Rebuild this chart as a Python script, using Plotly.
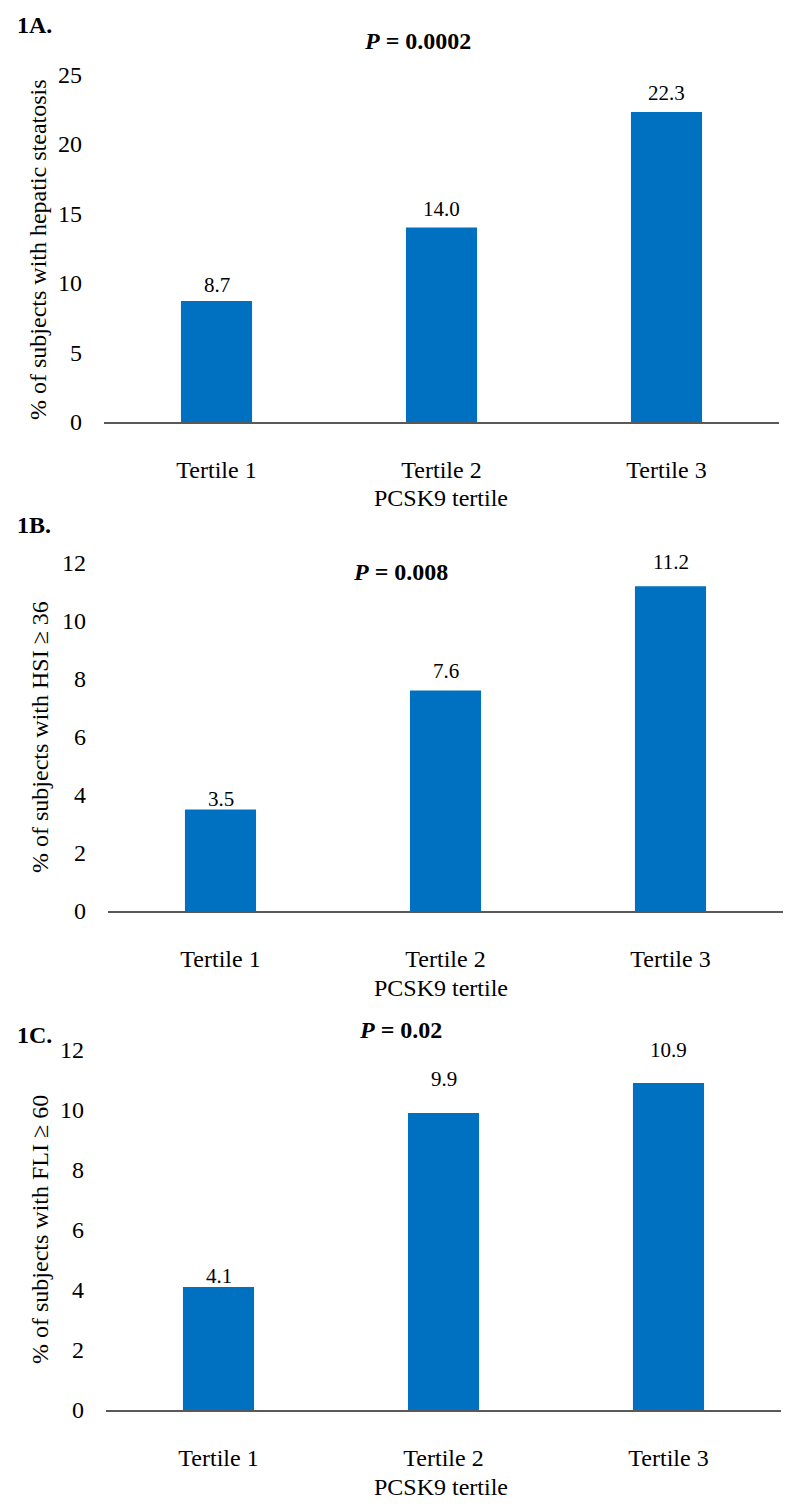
import plotly.graph_objects as go

categories = ["Tertile 1", "Tertile 2", "Tertile 3"]
vals_a = [8.7, 14.0, 22.3]
vals_b = [3.5, 7.6, 11.2]
vals_c = [4.1, 9.9, 10.9]
labels_a = ["8.7", "14.0", "22.3"]
labels_b = ["3.5", "7.6", "11.2"]
labels_c = ["4.1", "9.9", "10.9"]
ytitles = ["% of subjects with hepatic steatosis", "% of subjects with HSI ≥ 36", "% of subjects with FLI ≥ 60"]
ptitles = ["<i>P</i> = 0.0002", "<i>P</i> = 0.008", "<i>P</i> = 0.02"]
panel_labels = ["1A.", "1B.", "1C."]
xtitle = "PCSK9 tertile"

# label lift above bar top (pixels), style only
label_lift = [[2, 4, 5], [-3, 6, 10], [-3, 20, 19]]

W, H = 800, 1510
OFF = 8  # page body margin
FONT = "Liberation Serif, Times New Roman, serif"
BLUE = "#0070C0"

def px(x):
    return (x - OFF) / W

def py(y):
    return 1 - (y - OFF) / H

fig = go.Figure()
ann = []
# (y of top tick, y of zero, x left, x right, ymax, dtick)
panels = [(74.5, 422, 104, 779, 25, 5), (563, 911, 108, 783, 12, 2), (1050, 1410, 106, 781, 12, 2)]
series = [(vals_a, labels_a), (vals_b, labels_b), (vals_c, labels_c)]
for i, ((top, zero, xl, xr, ymax, dt), (vals, labs)) in enumerate(zip(panels, series)):
    sfx = "" if i == 0 else str(i + 1)
    fig.add_trace(go.Bar(x=categories, y=vals,
                         marker=dict(color=BLUE, line=dict(width=0)),
                         showlegend=False, hoverinfo="x+y",
                         xaxis="x" + sfx, yaxis="y" + sfx))
    for c, v, lab, lift in zip(categories, vals, labs, label_lift[i]):
        ann.append(dict(text=lab, x=c, y=v, xref="x" + sfx, yref="y" + sfx,
                        xanchor="center", yanchor="bottom", yshift=lift, showarrow=False,
                        font=dict(family=FONT, size=21, color="black")))
    fig.layout["xaxis" + sfx] = dict(domain=[px(xl), px(xr)], anchor="y" + sfx,
                                     showline=True, linecolor="#595959", linewidth=1.5,
                                     showgrid=False, zeroline=False, ticks="",
                                     ticklabelstandoff=25, automargin=False,
                                     tickfont=dict(family=FONT, size=24, color="black"))
    fig.layout["yaxis" + sfx] = dict(domain=[py(zero), py(top)], anchor="x" + sfx,
                                     range=[0, ymax], dtick=dt, showline=False,
                                     showgrid=False, zeroline=False, ticks="",
                                     ticklabelstandoff=21, automargin=False,
                                     tickfont=dict(family=FONT, size=24, color="black"))

for lab, yp in zip(panel_labels, [25, 525, 1035]):
    ann.append(dict(text="<b>" + lab + "</b>", x=px(15), y=py(yp), xref="paper", yref="paper",
                    xanchor="left", yanchor="middle", showarrow=False,
                    font=dict(family=FONT, size=24, color="black")))
for t, (xp, yp) in zip(ptitles, [(417, 41), (400, 572), (400, 1030)]):
    ann.append(dict(text="<b>" + t + "</b>", x=px(xp), y=py(yp), xref="paper", yref="paper",
                    xanchor="center", yanchor="middle", showarrow=False,
                    font=dict(family=FONT, size=24, color="black")))
for xp, yp in [(441, 498), (441, 988), (441, 1487)]:
    ann.append(dict(text=xtitle, x=px(xp), y=py(yp), xref="paper", yref="paper",
                    xanchor="center", yanchor="middle", showarrow=False,
                    font=dict(family=FONT, size=24, color="black")))
for t, (xp, yp) in zip(ytitles, [(38, 250), (40, 737), (40, 1230)]):
    ann.append(dict(text=t, x=px(xp), y=py(yp), xref="paper", yref="paper",
                    xanchor="center", yanchor="middle", textangle=-90, showarrow=False,
                    font=dict(family=FONT, size=24, color="black")))

fig.update_layout(width=W, height=H, margin=dict(l=0, r=0, t=0, b=0, autoexpand=False),
                  paper_bgcolor="white", plot_bgcolor="white", bargap=0.684,
                  annotations=ann, font=dict(family=FONT, color="black"))

fig.write_html("out.html")
